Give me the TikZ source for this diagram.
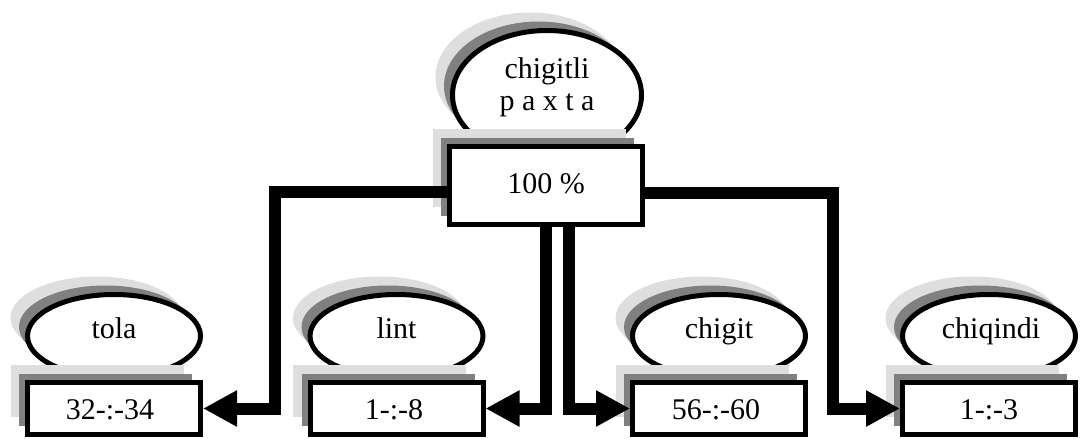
\documentclass[tikz,border=0pt]{standalone}
\usepackage{fontspec}
\setmainfont{Liberation Serif}
\usetikzlibrary{shapes.geometric,shadows,arrows.meta}
\definecolor{shadelight}{gray}{0.87}
\definecolor{shadedark}{gray}{0.5}

\begin{document}
\begin{tikzpicture}[x=1pt,y=-1pt,font=\fontsize{30}{33}\selectfont]
	\tikzstyle{twoshade} = [general shadow={draw=none, fill=shadelight, shadow xshift=-17pt, shadow yshift=18pt}, general shadow={draw=none, fill=shadedark, shadow xshift=-8.5pt, shadow yshift=9pt}];
	\tikzstyle{oval} = [ellipse, draw, line width=5pt, fill=white, twoshade, inner sep=0pt, minimum width=173pt, minimum height=83pt];
	\tikzstyle{valbox} = [rectangle, draw, line width=5pt, fill=white, twoshade, inner sep=0pt, minimum width=173pt, minimum height=52pt];
	\tikzstyle{word} = [anchor=base, inner sep=0pt];
	\tikzstyle{flow} = [line width=12pt, -{Triangle[length=34pt,width=34pt]}];
	\useasboundingbox (0,0) rectangle (1080,439);
	
	\node[oval, minimum width=189pt, minimum height=129pt] (O0) at (547,95) {};
	\node[word] (W0a) at (547,78) {chigitli};
	\node[word] (W0b) at (547,110) {p a x t a};
	\node[valbox, minimum width=193pt, minimum height=78pt] (B0) at (546,185.5) {};
	\node[word] (V0) at (546,193) {100 \%};
	
	\node[oval] (O1) at (114,336) {};
	\node[word] (W1) at (114,338) {tola};
	\node[valbox] (B1) at (114,408.5) {};
	\node[word] (V1) at (110,419) {32-:-34};
	
	\node[oval] (O2) at (396.5,336) {};
	\node[word] (W2) at (396.5,338) {lint};
	\node[valbox] (B2) at (396.5,408.5) {};
	\node[word] (V2) at (394,419) {1-:-8};
	
	\node[oval] (O3) at (719,336) {};
	\node[word] (W3) at (719,338) {chigit};
	\node[valbox] (B3) at (719,408.5) {};
	\node[word] (V3) at (716,419) {56-:-60};
	
	\node[oval] (O4) at (989,336) {};
	\node[word] (W4) at (991,338) {chiqindi};
	\node[valbox] (B4) at (989,408.5) {};
	\node[word] (V4) at (989,419) {1-:-3};
	
	\draw[flow] ([yshift=-6.5pt]B0.west) -| ([xshift=72pt]B1.east) -- (B1.east);
	\draw[flow] (B0.south) |- (B2.east);
	\draw[flow] ([xshift=23pt]B0.south) |- (B3.west);
	\draw[flow] ([yshift=-7pt]B0.east) -| ([xshift=-67pt]B4.west) -- (B4.west);
\end{tikzpicture}
\end{document}
